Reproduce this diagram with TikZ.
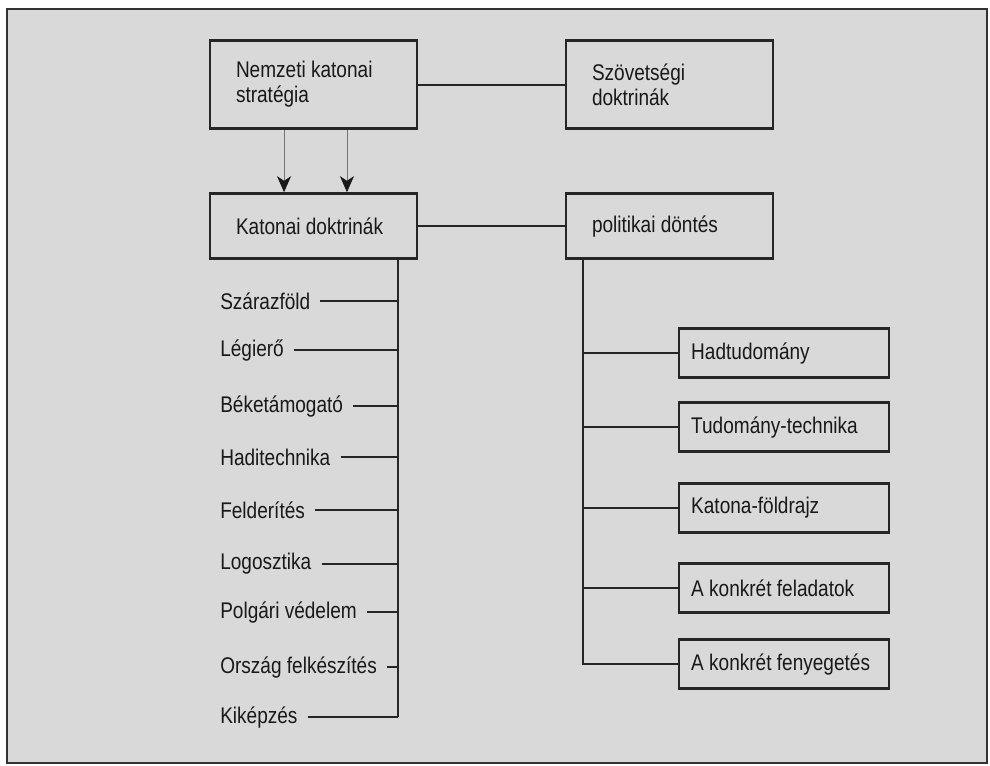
\documentclass[tikz,border=0pt]{standalone}
\usepackage{fontspec}
\setmainfont[FakeStretch=0.84]{Liberation Sans}
\usepackage{tikz}
\usetikzlibrary{arrows.meta}

\tikzset{
    mainbox/.style={draw=black!85, line width=2pt, inner xsep=19.5pt, inner ysep=0pt,
        text width=116.25pt, align=flush left, minimum height=#1},
    sidebox/.style={draw=black!85, line width=1.8pt, inner xsep=9pt, inner ysep=0pt,
        text width=139.5pt, align=flush left, minimum height=36.75pt},
    leaf/.style={anchor=west, inner xsep=7.5pt, inner ysep=0pt},
    link/.style={draw=black!85, line width=1.5pt},
    feed/.style={draw=black!55, line width=0.5pt,
        -{Stealth[length=12pt, width=10.5pt, inset=3.5pt, black!90]}}
}

\begin{document}
\begin{tikzpicture}[x=0.75pt, y=-0.75pt, font=\fontsize{17pt}{18.75pt}\selectfont, text=black!90]
    \useasboundingbox (0,0) rectangle (990,765);
    \draw[line width=1.4pt, draw=black!80, fill=black!15] (7,9) rectangle (987,763);

    \node[mainbox=66pt] (nks) at (313.5,84.5) {Nemzeti katonai\\stratégia};
    \node[mainbox=66pt] (szd) at (669.5,84.5) {Szövetségi\\doktrinák};
    \node[mainbox=48.75pt] (kd) at (313.5,226) {Katonai doktrinák};
    \node[mainbox=48.75pt] (pd) at (669.5,226) {politikai döntés};

    \draw[link] (nks.east) -- (szd.west);
    \draw[link] (kd.east) -- (pd.west);
    \draw[feed] ([xshift=-22.1pt]nks.south) -- ([xshift=-22.1pt]kd.north);
    \draw[feed] ([xshift=25.1pt]nks.south) -- ([xshift=25.1pt]kd.north);

    % fegyvernemek
    \coordinate (ltrunk) at (398,717);
    \node[leaf] (l1) at (210,301) {Szárazföld};
    \node[leaf] (l2) at (210,350) {Légierő};
    \node[leaf] (l3) at (210,406) {Béketámogató};
    \node[leaf] (l4) at (210,457) {Haditechnika};
    \node[leaf] (l5) at (210,510) {Felderítés};
    \node[leaf] (l6) at (210,564) {Logosztika};
    \node[leaf] (l7) at (210,612) {Polgári védelem};
    \node[leaf] (l8) at (210,667) {Ország felkészítés};
    \node[leaf] (l9) at (210,717) {Kiképzés};
    \draw[link] (kd.south -| ltrunk) -- (ltrunk);
    \foreach \l in {l1,l2,l3,l4,l5,l6,l7,l8,l9}
        \draw[link] (\l.east) -- (\l.east -| ltrunk);

    % tényezők
    \coordinate (rtrunk) at (583,667);
    \node[sidebox, anchor=west] (r1) at (678,353) {Hadtudomány};
    \node[sidebox, anchor=west] (r2) at (678,427) {Tudomány-technika};
    \node[sidebox, anchor=west] (r3) at (678,508) {Katona-földrajz};
    \node[sidebox, anchor=west] (r4) at (678,588) {A konkrét feladatok};
    \node[sidebox, anchor=west] (r5) at (678,664) {A konkrét fenyegetés};
    \draw[link] (pd.south -| rtrunk) |- (r5.west);
    \foreach \r in {r1,r2,r3,r4}
        \draw[link] (\r.west -| rtrunk) -- (\r.west);
\end{tikzpicture}
\end{document}
